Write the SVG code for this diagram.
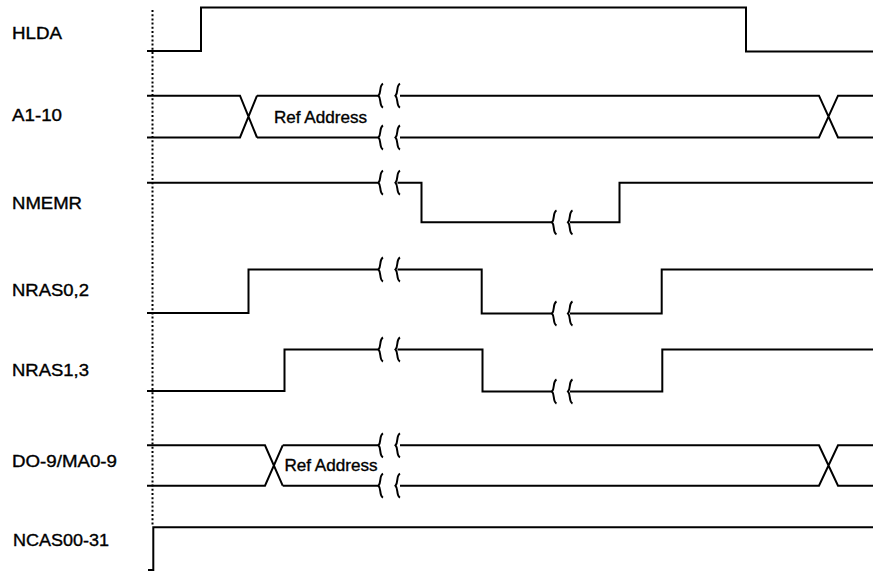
<svg xmlns="http://www.w3.org/2000/svg" width="873" height="572" viewBox="0 0 873 572">
  <defs>
    <style>
      .w { fill: none; stroke: #000; stroke-width: 2; stroke-linejoin: miter; }
      .brk { fill: none; stroke: #000; stroke-width: 2; }
      .dot { fill: none; stroke: #000; stroke-width: 2; stroke-dasharray: 2 2.2; }
      .lbl { font-family: "Liberation Sans", Arial, sans-serif; font-size: 16px; fill: #000; stroke: #000; stroke-width: 0.35; }
    </style>
    <path id="brace" d="M4.5,-12 C0.5,-10 3,-3 0,0 C3,3 0.5,10 4.5,12"/>
  </defs>
  <rect width="873" height="572" fill="#fff"/>

  <g id="labels">
    <text class="lbl" x="12" y="38.5" textLength="50" lengthAdjust="spacingAndGlyphs">HLDA</text>
    <text class="lbl" x="12" y="121" textLength="50" lengthAdjust="spacingAndGlyphs">A1-10</text>
    <text class="lbl" x="12" y="209" textLength="70" lengthAdjust="spacingAndGlyphs">NMEMR</text>
    <text class="lbl" x="12" y="296" textLength="77" lengthAdjust="spacingAndGlyphs">NRAS0,2</text>
    <text class="lbl" x="12" y="376" textLength="77" lengthAdjust="spacingAndGlyphs">NRAS1,3</text>
    <text class="lbl" x="12" y="467" textLength="105" lengthAdjust="spacingAndGlyphs">DO-9/MA0-9</text>
    <text class="lbl" x="13" y="546" textLength="96" lengthAdjust="spacingAndGlyphs">NCAS00-31</text>
  </g>

  <g id="connectors">
    <line id="ref-line" class="dot" x1="152.5" y1="10" x2="152.5" y2="526"/>
  </g>

  <g id="HLDA">
    <path class="w" d="M147,51 H201 V7.5 H746 V51.5 H873"/>
  </g>

  <g id="A1-10">
    <path class="w" d="M147,95.7 H240 L257,137.5 M147,137.5 H240 L257,95.7 M257,95.7 H378.5 M257,137.5 H378.5 M400,95.7 H819 L838,137.5 H873 M400,137.5 H819 L838,95.7 H873"/>
    <use href="#brace" class="brk" x="378.5" y="95.7"/>
    <use href="#brace" class="brk" x="395.5" y="95.7"/>
    <use href="#brace" class="brk" x="378.5" y="137.5"/>
    <use href="#brace" class="brk" x="395.5" y="137.5"/>
    <text class="lbl" x="274" y="122.5" textLength="93" lengthAdjust="spacingAndGlyphs">Ref Address</text>
  </g>

  <g id="NMEMR">
    <path class="w" d="M147,182.7 H378.5 M397.5,182.7 H421.5 V222.3 H552 M570,222.3 H619.5 V182.7 H873"/>
    <use href="#brace" class="brk" x="378.5" y="182.7"/>
    <use href="#brace" class="brk" x="395.5" y="182.7"/>
    <use href="#brace" class="brk" x="552" y="222.3"/>
    <use href="#brace" class="brk" x="568" y="222.3"/>
  </g>

  <g id="NRAS02">
    <path class="w" d="M147,313 H248.5 V269.5 H378.5 M397.5,269.5 H481.7 V313.5 H552 M570,313.5 H661.7 V269.5 H873"/>
    <use href="#brace" class="brk" x="378.5" y="269.5"/>
    <use href="#brace" class="brk" x="395.5" y="269.5"/>
    <use href="#brace" class="brk" x="552" y="313.5"/>
    <use href="#brace" class="brk" x="568" y="313.5"/>
  </g>

  <g id="NRAS13">
    <path class="w" d="M147,391 H284.5 V349.5 H378.5 M397.5,349.5 H482.5 V391.5 H552 M570,391.5 H662.3 V349.5 H873"/>
    <use href="#brace" class="brk" x="378.5" y="349.5"/>
    <use href="#brace" class="brk" x="395.5" y="349.5"/>
    <use href="#brace" class="brk" x="552" y="391.5"/>
    <use href="#brace" class="brk" x="568" y="391.5"/>
  </g>

  <g id="DO-9-MA0-9">
    <path class="w" d="M147,445.3 H265 L282.7,485.7 M147,485.7 H265 L282.7,445.3 M282.7,445.3 H378.5 M282.7,485.7 H378.5 M400,445.3 H819 L838,485.7 H873 M400,485.7 H819 L838,445.3 H873"/>
    <use href="#brace" class="brk" x="378.5" y="445.3"/>
    <use href="#brace" class="brk" x="395.5" y="445.3"/>
    <use href="#brace" class="brk" x="378.5" y="485.7"/>
    <use href="#brace" class="brk" x="395.5" y="485.7"/>
    <text class="lbl" x="284.5" y="470.5" textLength="93" lengthAdjust="spacingAndGlyphs">Ref Address</text>
  </g>

  <g id="NCAS00-31">
    <path class="w" d="M148,570 H153.3 V527.3 H873"/>
  </g>
</svg>
